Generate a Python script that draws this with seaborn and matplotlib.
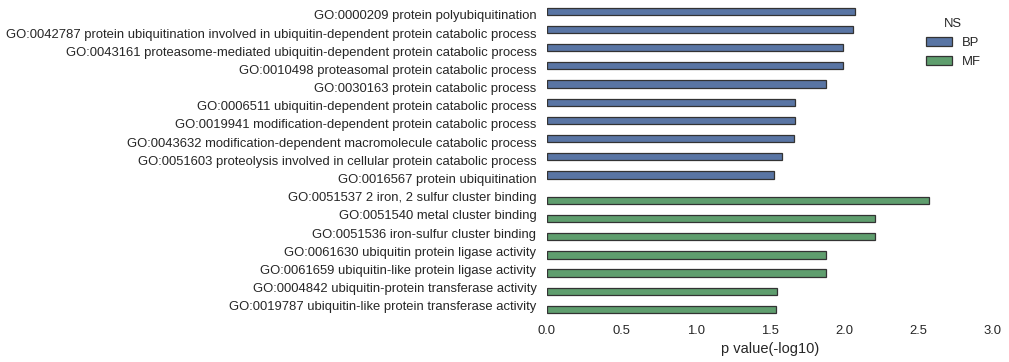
import matplotlib
matplotlib.use('Agg')
import matplotlib.pyplot as plt
import seaborn as sns
import pandas as pd

# GO terms, their namespace and the -log10 p values
terms = [
  'GO:0000209 protein polyubiquitination',
  'GO:0042787 protein ubiquitination involved in ubiquitin-dependent protein catabolic process',
  'GO:0043161 proteasome-mediated ubiquitin-dependent protein catabolic process',
  'GO:0010498 proteasomal protein catabolic process',
  'GO:0030163 protein catabolic process',
  'GO:0006511 ubiquitin-dependent protein catabolic process',
  'GO:0019941 modification-dependent protein catabolic process',
  'GO:0043632 modification-dependent macromolecule catabolic process',
  'GO:0051603 proteolysis involved in cellular protein catabolic process',
  'GO:0016567 protein ubiquitination',
  'GO:0051537 2 iron, 2 sulfur cluster binding',
  'GO:0051540 metal cluster binding',
  'GO:0051536 iron-sulfur cluster binding',
  'GO:0061630 ubiquitin protein ligase activity',
  'GO:0061659 ubiquitin-like protein ligase activity',
  'GO:0004842 ubiquitin-protein transferase activity',
  'GO:0019787 ubiquitin-like protein transferase activity',
]
ns = ['BP'] * 10 + ['MF'] * 7
pvals = [2.07, 2.06, 1.99, 1.99, 1.88, 1.67, 1.67, 1.66, 1.58, 1.53,
         2.57, 2.21, 2.21, 1.88, 1.88, 1.55, 1.54]
ns_order = ['BP', 'MF']
colors = ['#4C72B0', '#55A868']

df = pd.DataFrame({'term': terms, 'NS': ns, 'pval': pvals})

sns.set_style('white')
plt.rcParams['font.family'] = ['Liberation Sans', 'DejaVu Sans']
plt.rcParams['text.color'] = '.15'
plt.rcParams['axes.labelcolor'] = '.15'
plt.rcParams['xtick.color'] = '.15'
plt.rcParams['ytick.color'] = '.15'

fig, ax = plt.subplots(figsize=(10.09, 3.62), dpi=100)
sns.barplot(data=df, x='pval', y='term', hue='NS', hue_order=ns_order,
            palette=colors, dodge=True, orient='h', ax=ax,
            edgecolor='.2', linewidth=0.9)

ax.set_xlim(0, 3)
ax.set_xticks([0, 0.5, 1, 1.5, 2, 2.5, 3])
ax.set_xticklabels(['0.0', '0.5', '1.0', '1.5', '2.0', '2.5', '3.0'])
ax.set_xlabel('p value(-log10)', fontsize=10.5)
ax.set_ylabel('')
ax.tick_params(axis='both', length=0, labelsize=9.4)
ax.tick_params(axis='y', pad=7.5)
ax.tick_params(axis='x', pad=7)
for s in ax.spines.values():
  s.set_visible(False)

leg = ax.legend(title='NS', loc='upper right', frameon=False, fontsize=9.4,
                title_fontsize=9.4, bbox_to_anchor=(1.0, 1.0),
                labelspacing=0.55)

plt.subplots_adjust(left=0.542, right=0.984, top=0.984, bottom=0.13)
plt.savefig('out.png')
